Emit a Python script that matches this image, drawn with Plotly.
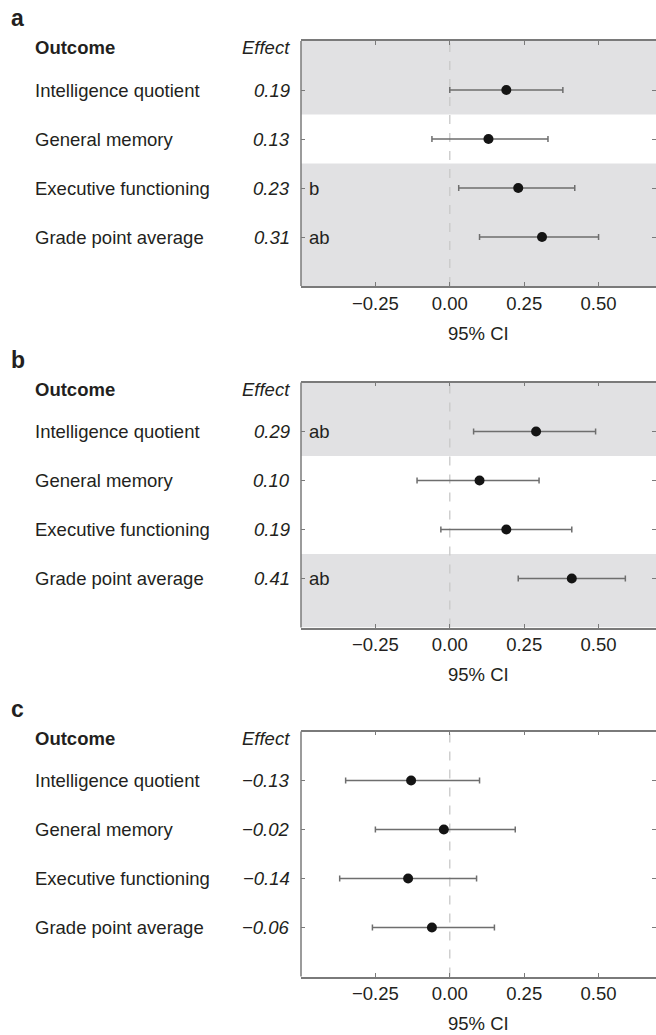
import plotly.graph_objects as go

# ---------------- data ----------------
outcomes = ["Intelligence quotient", "General memory", "Executive functioning", "Grade point average"]
panel_letters = ["a", "b", "c"]

effect_a = [0.19, 0.13, 0.23, 0.31]
ci_low_a = [0.00, -0.06, 0.03, 0.10]
ci_high_a = [0.38, 0.33, 0.42, 0.50]
marks_a = ["", "", "b", "ab"]
shaded_a = [True, False, True, True]

effect_b = [0.29, 0.10, 0.19, 0.41]
ci_low_b = [0.08, -0.11, -0.03, 0.23]
ci_high_b = [0.49, 0.30, 0.41, 0.59]
marks_b = ["ab", "", "", "ab"]
shaded_b = [True, False, False, True]

effect_c = [-0.13, -0.02, -0.14, -0.06]
ci_low_c = [-0.35, -0.25, -0.37, -0.26]
ci_high_c = [0.10, 0.22, 0.09, 0.15]
marks_c = ["", "", "", ""]
shaded_c = [False, False, False, False]

x_ticks = [-0.25, 0.0, 0.25, 0.50]
x_title = "95% CI"

panels = [
    (effect_a, ci_low_a, ci_high_a, marks_a, shaded_a),
    (effect_b, ci_low_b, ci_high_b, marks_b, shaded_b),
    (effect_c, ci_low_c, ci_high_c, marks_c, shaded_c),
]

# ---------------- layout geometry (pixels) ----------------
W, H = 656, 1035
plot_left, plot_right = 301, 656
panel_tops = [41, 382.5, 731.5]
panel_h = 245
x_range = [-0.5, 0.693]

FONT = "Liberation Sans, Arial, Helvetica, sans-serif"
FS = 18.5
TXT = "#231f20"
BAND = "#e1e1e3"
FRAME = "#7a7a7a"


def fmt(v):
    s = f"{abs(v):.2f}"
    return ("\u2212" + s) if v < 0 else s


fig = go.Figure()
annotations = []
shapes = []
layout_axes = {}
nrow = len(outcomes)

for k, (eff, lo, hi, marks, shaded) in enumerate(panels):
    n = k + 1
    xa = "x" if n == 1 else f"x{n}"
    ya = "y" if n == 1 else f"y{n}"
    top = panel_tops[k]
    dom_y = [1 - (top + panel_h) / H, 1 - top / H]

    fig.add_trace(go.Scatter(
        x=eff, y=outcomes, mode="markers",
        marker=dict(size=10, color="#141414"),
        error_x=dict(type="data", symmetric=False,
                     array=[h - e for h, e in zip(hi, eff)],
                     arrayminus=[e - l for e, l in zip(eff, lo)],
                     color="#6e6e6e", thickness=1.5, width=3),
        xaxis=xa, yaxis=ya, showlegend=False, hoverinfo="skip",
    ))

    layout_axes["xaxis" if n == 1 else f"xaxis{n}"] = dict(
        domain=[plot_left / W, plot_right / W], anchor=ya,
        range=x_range, tickvals=x_ticks, tickformat=".2f",
        ticks="inside", ticklen=4, tickwidth=1, tickcolor=FRAME,
        showline=True, linecolor=FRAME, linewidth=1.5, mirror="ticks",
        showgrid=False, zeroline=False,
        tickfont=dict(family=FONT, size=FS, color=TXT),
        ticklabelstandoff=0,
    )
    layout_axes["yaxis" if n == 1 else f"yaxis{n}"] = dict(
        domain=dom_y, anchor=xa, type="category",
        categoryorder="array", categoryarray=outcomes,
        range=[nrow, -1],
        ticks="inside", ticklen=4, tickwidth=1, tickcolor=FRAME,
        showticklabels=False, showline=False, mirror="ticks",
        showgrid=False, zeroline=False,
    )

    # shaded bands (contiguous shaded rows merged into one block)
    i = 0
    while i < nrow:
        if shaded[i]:
            j = i
            while j + 1 < nrow and shaded[j + 1]:
                j += 1
            y0 = -1 if i == 0 else i - 0.5
            y1 = nrow if j == nrow - 1 else j + 0.5
            shapes.append(dict(type="rect", xref=f"{xa} domain", yref=ya,
                               x0=0, x1=1, y0=y0, y1=y1, fillcolor=BAND,
                               line=dict(width=0), layer="below"))
            i = j + 1
        else:
            i += 1
    # zero line
    shapes.append(dict(type="line", xref=xa, yref=f"{ya} domain",
                       x0=0, x1=0, y0=0, y1=1,
                       line=dict(color="#c8c8c8", width=1.3, dash="dash"),
                       layer="below"))
    # left frame line
    shapes.append(dict(type="line", xref=f"{xa} domain", yref=f"{ya} domain",
                       x0=0, x1=0, y0=0, y1=1,
                       line=dict(color=FRAME, width=1.5)))

    # panel letter
    annotations.append(dict(text=f"<b>{panel_letters[k]}</b>", xref="paper", yref=f"{ya} domain",
                            x=9 / W, y=1 + 23 / panel_h, xanchor="left", yanchor="middle",
                            showarrow=False, font=dict(family=FONT, size=23, color=TXT)))
    # headers
    hy = -1 + 6.5 / (panel_h / (nrow + 1))
    annotations.append(dict(text="<b>Outcome</b>", xref="paper", yref=ya, x=33 / W, y=hy,
                            xanchor="left", yanchor="middle", showarrow=False,
                            font=dict(family=FONT, size=FS, color=TXT)))
    annotations.append(dict(text="<i>Effect</i>", xref="paper", yref=ya, x=292 / W, y=hy,
                            xanchor="right", yanchor="middle", showarrow=False,
                            font=dict(family=FONT, size=FS, color=TXT)))
    for i, name in enumerate(outcomes):
        annotations.append(dict(text=name, xref="paper", yref=ya, x=33 / W, y=i,
                                xanchor="left", yanchor="middle", showarrow=False,
                                font=dict(family=FONT, size=FS, color=TXT)))
        annotations.append(dict(text=f"<i>{fmt(eff[i])}</i>", xref="paper", yref=ya, x=292 / W, y=i,
                                xanchor="right", yanchor="middle", showarrow=False,
                                font=dict(family=FONT, size=FS, color=TXT)))
        if marks[i]:
            annotations.append(dict(text=marks[i], xref=f"{xa} domain", yref=ya, x=6 / (plot_right - plot_left),
                                    y=i, xanchor="left", yanchor="middle", showarrow=False,
                                    font=dict(family=FONT, size=FS, color=TXT)))
    # x axis title
    annotations.append(dict(text=x_title, xref=f"{xa} domain", yref=f"{ya} domain",
                            x=0.5, y=-47 / panel_h, xanchor="center", yanchor="middle",
                            showarrow=False, font=dict(family=FONT, size=FS, color=TXT)))

fig.update_layout(
    width=W, height=H,
    margin=dict(l=0, r=0, t=0, b=0),
    paper_bgcolor="white", plot_bgcolor="white",
    font=dict(family=FONT, color=TXT),
    annotations=annotations, shapes=shapes,
    **layout_axes,
)

fig.write_html("out.html", config={"displayModeBar": False},
               post_script="document.body.style.margin='0';document.body.style.overflow='hidden';")
